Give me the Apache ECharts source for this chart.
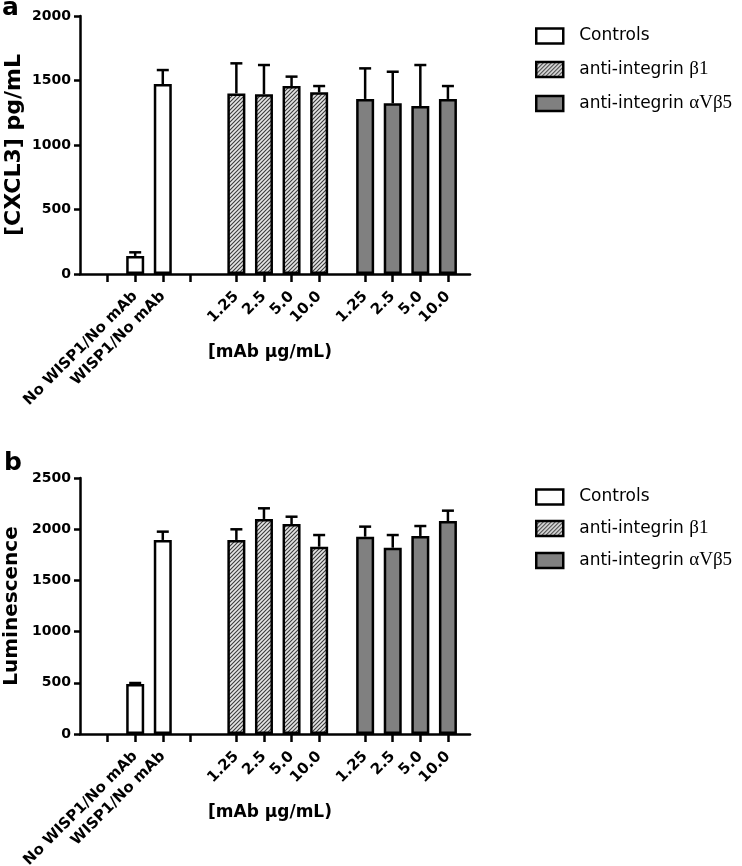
<!DOCTYPE html>
<html>
<head>
<meta charset="utf-8">
<script src="https://cdn.jsdelivr.net/npm/echarts@6/dist/echarts.min.js"></script>
<style>
  html, body { margin: 0; padding: 0; background: #fff; }
  #chart { width: 742px; height: 866px; }
</style>
</head>
<body>
<div id="chart"></div>
<script>
// ---------------- DATA ----------------
const controlLabels = ['No WISP1/No mAb', 'WISP1/No mAb'];
const doseLabels = ['1.25', '2.5', '5.0', '10.0'];
const seriesNames = ['Controls', 'anti-integrin β1', 'anti-integrin αVβ5'];
const xAxisTitle = '[mAb μg/mL)';

// Panel a: [CXCL3] pg/mL (mean, upper error)
const cxcl3Controls = [140, 1473];
const cxcl3ControlsErr = [28, 108];
const cxcl3Beta1 = [1400, 1393, 1457, 1408];
const cxcl3Beta1Err = [233, 227, 73, 49];
const cxcl3AvB5 = [1357, 1323, 1302, 1357];
const cxcl3AvB5Err = [237, 245, 318, 100];
const cxcl3Ticks = [0, 500, 1000, 1500, 2000];

// Panel b: Luminescence (mean, upper error)
const lumControls = [488, 1895];
const lumControlsErr = [10, 81];
const lumBeta1 = [1895, 2100, 2051, 1829];
const lumBeta1Err = [104, 104, 71, 114];
const lumAvB5 = [1927, 1819, 1934, 2080];
const lumAvB5Err = [98, 124, 97, 101];
const lumTicks = [0, 500, 1000, 1500, 2000, 2500];

// ---------------- LAYOUT (slot positions along x) ----------------
const X_MAX = 84.8;
const controlSlots = [12, 18];
const beta1Slots = [34, 40, 46, 52];
const avb5Slots = [62, 68, 74, 80];
const emptyTickSlots = [6, 24];
const tickSlots = emptyTickSlots.concat(controlSlots, beta1Slots, avb5Slots).sort((a, b) => a - b);
const labelSlots = controlSlots.concat(beta1Slots, avb5Slots);
const labelMap = {};
controlSlots.forEach((s, i) => labelMap[s] = controlLabels[i]);
beta1Slots.forEach((s, i) => labelMap[s] = doseLabels[i]);
avb5Slots.forEach((s, i) => labelMap[s] = doseLabels[i]);

// ---------------- STYLES ----------------
function makeHatch() {
  const c = document.createElement('canvas');
  c.width = 4; c.height = 4;
  const g = c.getContext('2d');
  g.fillStyle = '#e4e4e4';
  g.fillRect(0, 0, 4, 4);
  g.strokeStyle = '#3a3a3a';
  g.lineWidth = 1.1;
  g.beginPath();
  g.moveTo(-1, 5); g.lineTo(5, -1);
  g.moveTo(-1, 1); g.lineTo(1, -1);
  g.moveTo(3, 5); g.lineTo(5, 3);
  g.stroke();
  return c;
}
const hatch = { image: makeHatch(), repeat: 'repeat' };
const fills = ['#ffffff', hatch, '#808080'];
const BOLD = { fontFamily: 'DejaVu Sans', fontWeight: 'bold', color: '#000' };

function pairs(slots, vals, errs) {
  return slots.map((s, i) => errs ? [s, vals[i], errs[i]] : [s, vals[i]]);
}

function xAxisCfg(gridIndex) {
  return {
    gridIndex, type: 'value', min: 0, max: X_MAX,
    axisLine: { show: true, onZero: false, lineStyle: { color: '#000', width: 2.5 } },
    axisTick: { show: true, customValues: tickSlots, length: 8, lineStyle: { color: '#000', width: 2.5 } },
    axisLabel: {
      customValues: labelSlots, formatter: v => labelMap[v] || '',
      rotate: 45, margin: 20, fontSize: 15, ...BOLD
    },
    splitLine: { show: false },
    name: xAxisTitle, nameLocation: 'middle', nameGap: 70, nameMoveOverlap: false,
    nameTextStyle: { fontSize: 17, ...BOLD, padding: [0, 10, 0, 0] }
  };
}
function yAxisCfg(gridIndex, ticks, name, nameSize, nameGap) {
  return {
    gridIndex, type: 'value', min: ticks[0], max: ticks[ticks.length - 1],
    axisLine: { show: true, onZero: false, lineStyle: { color: '#000', width: 2.5 } },
    axisTick: { show: true, customValues: ticks, length: 6, lineStyle: { color: '#000', width: 2.5 } },
    axisLabel: { customValues: ticks, formatter: v => String(v), margin: 9, fontSize: 14, ...BOLD },
    splitLine: { show: false },
    name, nameLocation: 'middle', nameGap, nameMoveOverlap: false,
    nameTextStyle: { fontSize: nameSize, ...BOLD }
  };
}
function barSeries(name, idx, data) {
  return {
    name, type: 'bar', xAxisIndex: idx, yAxisIndex: idx, data,
    barWidth: 18, barGap: '-100%',
    itemStyle: { color: fills[seriesNames.indexOf(name)], borderColor: '#000', borderWidth: 2.5 },
    emphasis: { disabled: true }, z: 2
  };
}
function errSeries(idx, data) {
  return {
    type: 'custom', xAxisIndex: idx, yAxisIndex: idx, data, z: 3, silent: true,
    encode: { x: 0, y: 1 },
    renderItem: (params, api) => {
      const x = api.value(0), m = api.value(1), e = api.value(2);
      const p0 = api.coord([x, m]);
      const p1 = api.coord([x, m + e]);
      const st = { stroke: '#000', lineWidth: 2.5 };
      return {
        type: 'group', children: [
          { type: 'line', shape: { x1: p0[0], y1: p0[1], x2: p1[0], y2: p1[1] }, style: st },
          { type: 'line', shape: { x1: p1[0] - 6, y1: p1[1], x2: p1[0] + 6, y2: p1[1] }, style: st }
        ]
      };
    }
  };
}
function legendCfg(top, gap) {
  return {
    data: seriesNames, orient: 'vertical', left: 530, top,
    icon: 'rect', itemWidth: 27, itemHeight: 15, itemGap: gap,
    selectedMode: false,
    itemStyle: { borderColor: '#000', borderWidth: 2.5 },
    formatter: name => {
      const k = name.lastIndexOf(' ');
      if (k < 0) return '{t|' + name + '}';
      return '{t|' + name.slice(0, k + 1) + '}{g|' + name.slice(k + 1) + '}';
    },
    textStyle: {
      color: '#000', lineHeight: 18,
      rich: {
        t: { fontFamily: 'DejaVu Sans', fontSize: 17, color: '#000', padding: [0, 0, 0, 11], lineHeight: 18 },
        g: { fontFamily: 'Liberation Serif', fontSize: 19, color: '#000', lineHeight: 18 }
      }
    }
  };
}

const option = {
  animation: false,
  backgroundColor: '#fff',
  grid: [
    { left: 80, top: 16, width: 390, height: 258, containLabel: false, outerBoundsMode: 'none' },
    { left: 80, top: 478, width: 390, height: 256, containLabel: false, outerBoundsMode: 'none' }
  ],
  xAxis: [xAxisCfg(0), xAxisCfg(1)],
  yAxis: [
    yAxisCfg(0, cxcl3Ticks, '[CXCL3] pg/mL', 22, 55),
    yAxisCfg(1, lumTicks, 'Luminescence', 20, 58)
  ],
  legend: [legendCfg(22, 15), legendCfg(483, 13)],
  graphic: [
    { type: 'text', left: 2, top: -4, style: { text: 'a', font: 'bold 25px "DejaVu Sans"', fill: '#000' } },
    { type: 'text', left: 4, top: 451, style: { text: 'b', font: 'bold 25px "DejaVu Sans"', fill: '#000' } }
  ],
  series: [
    barSeries(seriesNames[0], 0, pairs(controlSlots, cxcl3Controls)),
    barSeries(seriesNames[1], 0, pairs(beta1Slots, cxcl3Beta1)),
    barSeries(seriesNames[2], 0, pairs(avb5Slots, cxcl3AvB5)),
    errSeries(0, pairs(controlSlots, cxcl3Controls, cxcl3ControlsErr)
      .concat(pairs(beta1Slots, cxcl3Beta1, cxcl3Beta1Err), pairs(avb5Slots, cxcl3AvB5, cxcl3AvB5Err))),
    barSeries(seriesNames[0], 1, pairs(controlSlots, lumControls)),
    barSeries(seriesNames[1], 1, pairs(beta1Slots, lumBeta1)),
    barSeries(seriesNames[2], 1, pairs(avb5Slots, lumAvB5)),
    errSeries(1, pairs(controlSlots, lumControls, lumControlsErr)
      .concat(pairs(beta1Slots, lumBeta1, lumBeta1Err), pairs(avb5Slots, lumAvB5, lumAvB5Err)))
  ]
};

const chart = echarts.init(document.getElementById('chart'), null, { renderer: 'canvas' });
chart.setOption(option);
</script>
</body>
</html>
